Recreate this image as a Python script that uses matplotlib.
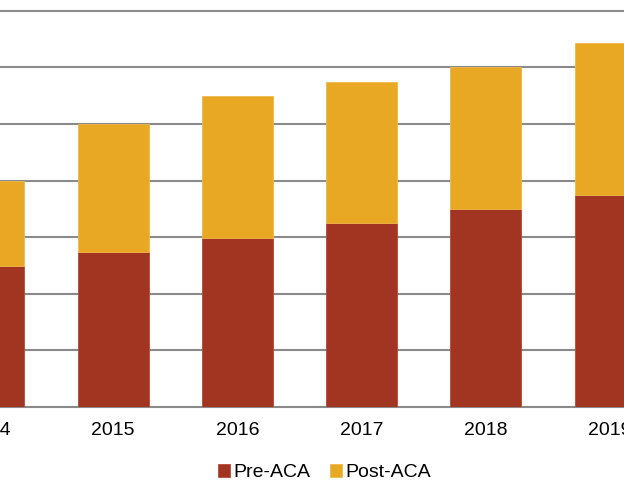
import numpy as np
import matplotlib.pyplot as plt

plt.rcParams['font.family'] = ['Liberation Sans', 'DejaVu Sans']

years = ['2014', '2015', '2016', '2017', '2018', '2019']
pre_aca = [2.49, 2.74, 2.99, 3.25, 3.50, 3.75]
post_aca = [1.51, 2.26, 2.50, 2.49, 2.51, 2.68]

pre_color = '#A23522'
post_color = '#E9A823'

fig = plt.figure(figsize=(6.24, 5.0), dpi=100)
# the chart is cropped on both sides, so the axes run past the figure edges
ax = fig.add_axes([-0.1171, 0.186, 1.1942, 0.814])

x = np.arange(len(years))
ax.bar(x, pre_aca, width=0.57, color=pre_color, edgecolor='#B84A35', linewidth=0.6,
       label='Pre-ACA', zorder=3)
ax.bar(x, post_aca, width=0.57, bottom=pre_aca, color=post_color, edgecolor='#F0B84A',
       linewidth=0.6, label='Post-ACA', zorder=3)

ax.set_xticks(x)
ax.set_xticklabels(years)
ax.set_yticks(np.arange(1, 8))
ax.set_xlim(-0.5, 5.5)
ax.set_ylim(0, 7.19)
ax.yaxis.grid(True, color='#8a8a8a', linewidth=1.5)
ax.set_axisbelow(True)
ax.tick_params(axis='y', left=False, labelleft=False)
ax.tick_params(axis='x', length=0, pad=11, labelsize=14)
for s in ['top', 'left', 'right']:
    ax.spines[s].set_visible(False)
ax.spines['bottom'].set_color('#8a8a8a')
ax.spines['bottom'].set_linewidth(1.5)

fig.legend(loc='center', bbox_to_anchor=(0.52, 0.055), ncol=2, frameon=False,
           fontsize=14, handlelength=0.62, handleheight=0.62, handletextpad=0.2,
           columnspacing=1.0)

fig.savefig('out.png', dpi=100)
